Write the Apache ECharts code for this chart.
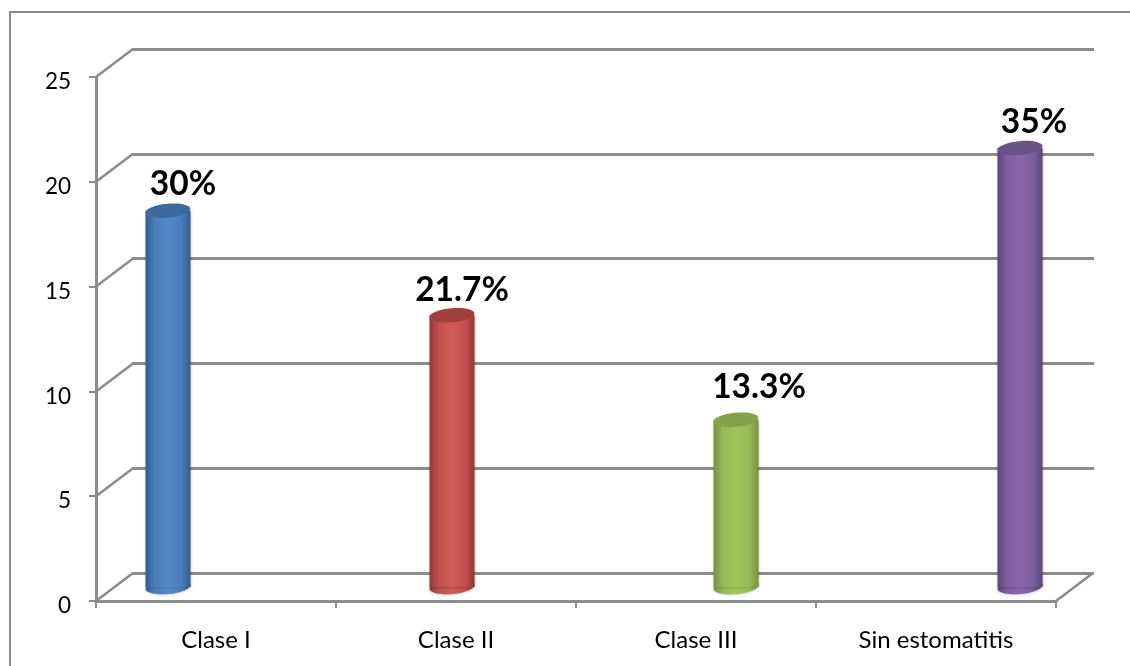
<!DOCTYPE html>
<html>
<head>
<meta charset="utf-8">
<style>
  html, body { margin: 0; padding: 0; background: #fff; }
  #main { width: 1130px; height: 666px; }
</style>
<script src="https://cdn.jsdelivr.net/npm/echarts@6/dist/echarts.min.js"></script>
</head>
<body>
<div id="main"></div>
<script>
  const categories = ['Clase I', 'Clase II', 'Clase III', 'Sin estomatitis']
  const values = [18, 13, 8, 21]
  const percentLabels = ['30%', '21.7%', '13.3%', '35%']
  const yTicks = [0, 5, 10, 15, 20, 25]

  // the 3d look of the old office chart
  const FONT = 'Lato'
  const GREY = '#8c8c8c'
  const WALL_DX = 37
  const WALL_DY = -28
  const labelNudge = [[15, -27], [10, -25], [23, -33], [14, -26]]
  const barColors = [
    { edge: '#335c8e', body: '#4a7db9', mid: '#5389cb', top: '#3b6a9e' },
    { edge: '#933735', body: '#c0504d', mid: '#cf5c58', top: '#a23f3c' },
    { edge: '#76913f', body: '#96b955', mid: '#a2c45c', top: '#84a24a' },
    { edge: '#5b4578', body: '#7c5f9f', mid: '#8866ab', top: '#6b5288' }
  ]

  const chart = echarts.init(document.getElementById('main'))

  function wallLine(x1, y1) {
    return {
      type: 'line',
      shape: { x1: x1, y1: y1, x2: x1 + WALL_DX, y2: y1 + WALL_DY },
      style: { stroke: GREY, lineWidth: 2.5 }
    }
  }

  function renderDiagonal(params, api) {
    const y = api.coord([0, api.value(1)])[1]
    const box = params.coordSys
    const children = [wallLine(box.x, y)]
    if (api.value(1) === 0) children.push(wallLine(box.x + box.width, y))
    return { type: 'group', children: children }
  }

  function renderBar(params, api) {
    const i = params.dataIndex
    const top = api.coord([i, api.value(1)])
    const base = api.coord([i, 0])
    const rx = 22.5
    const ry = 7
    const tilt = 0.09
    const c = barColors[i]
    const fill = new echarts.graphic.LinearGradient(0, 0, 1, 0, [
      { offset: 0, color: c.edge },
      { offset: 0.2, color: c.body },
      { offset: 0.5, color: c.mid },
      { offset: 0.8, color: c.body },
      { offset: 1, color: c.edge }
    ])
    const shadow = { shadowBlur: 3, shadowColor: 'rgba(0,0,0,0.35)' }
    return {
      type: 'group',
      children: [
        {
          type: 'ellipse',
          shape: { cx: base[0], cy: base[1], rx: rx, ry: ry },
          rotation: tilt,
          originX: base[0],
          originY: base[1],
          style: Object.assign({ fill: fill }, shadow)
        },
        {
          type: 'rect',
          shape: { x: top[0] - rx, y: top[1], width: rx * 2, height: base[1] - top[1] },
          style: Object.assign({ fill: fill }, shadow)
        },
        {
          type: 'ellipse',
          shape: { cx: top[0], cy: top[1], rx: rx, ry: ry },
          rotation: tilt,
          originX: top[0],
          originY: top[1],
          style: { fill: c.top }
        },
        {
          type: 'text',
          x: top[0] + labelNudge[i][0],
          y: top[1] + labelNudge[i][1],
          style: {
            text: percentLabels[i],
            fill: '#000',
            font: 'bold 33.5px ' + FONT,
            align: 'center',
            verticalAlign: 'middle'
          }
        }
      ]
    }
  }

  const option = {
    animation: false,
    backgroundColor: '#fff',
    graphic: [{
      type: 'polyline',
      silent: true,
      shape: { points: [[10, 666], [10, 12], [1130, 12]] },
      style: { fill: 'none', stroke: GREY, lineWidth: 2 }
    }],
    grid: [
      { left: 96, top: 77, width: 960, height: 524 },
      { left: 132, top: 49, width: 962, height: 524 },
      { left: 168, top: 64.5, width: 852, height: 522.5 }
    ],
    xAxis: [
      {
        gridIndex: 0,
        type: 'category',
        data: categories,
        axisLine: { lineStyle: { color: GREY, width: 3 } },
        axisTick: { show: true, length: 7, lineStyle: { color: GREY, width: 2 } },
        axisLabel: { color: '#000', fontFamily: FONT, fontSize: 24, margin: 27 }
      },
      { gridIndex: 1, type: 'category', data: categories, show: false },
      { gridIndex: 2, type: 'category', data: categories, boundaryGap: false, show: false }
    ],
    yAxis: [
      {
        gridIndex: 0,
        type: 'value',
        min: 0,
        max: 25,
        interval: 5,
        axisLine: { show: true, lineStyle: { color: GREY, width: 3 } },
        axisTick: { show: true, length: 7, lineStyle: { color: GREY, width: 2 } },
        axisLabel: { color: '#000', fontFamily: FONT, fontSize: 22.5, margin: 25, verticalAlign: 'top', lineHeight: 10 },
        splitLine: { show: false }
      },
      {
        gridIndex: 1,
        type: 'value',
        min: 0,
        max: 25,
        interval: 5,
        axisLine: { show: false },
        axisTick: { show: false },
        axisLabel: { show: false },
        splitLine: { show: true, lineStyle: { color: GREY, width: 3 } }
      },
      { gridIndex: 2, type: 'value', min: 0, max: 25, interval: 5, show: false, splitLine: { show: false } }
    ],
    series: [
      {
        type: 'custom',
        xAxisIndex: 0,
        yAxisIndex: 0,
        silent: true,
        clip: false,
        z: 1,
        data: yTicks.map(function (t) { return [0, t] }),
        renderItem: renderDiagonal
      },
      {
        type: 'custom',
        xAxisIndex: 2,
        yAxisIndex: 2,
        silent: true,
        clip: false,
        z: 5,
        data: values.map(function (v, i) { return [i, v] }),
        renderItem: renderBar
      }
    ]
  }

  chart.setOption(option)
</script>
</body>
</html>
